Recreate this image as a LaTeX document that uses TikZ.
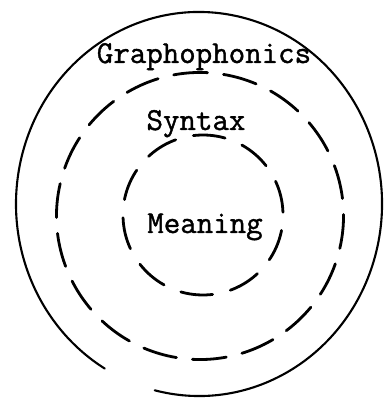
\documentclass[tikz,border=0pt]{standalone}
\usepackage{fontspec}
\newfontfamily\typewr[FakeBold=1.2]{Latin Modern Mono}
\begin{document}
\begin{tikzpicture}[x=1pt,y=1pt,
  ring/.style={line width=2.1pt, line cap=round},
  dashring/.style={line width=2.8pt, line cap=round},
  lbl/.style={inner sep=0pt, anchor=base, font=\typewr\fontsize{32}{36}\selectfont}]
\useasboundingbox (0,0) rectangle (387,401);
% centres
\coordinate (co) at (199,197);
\coordinate (cm) at (200,185);
\coordinate (ci) at (203,186);
% outer hand-drawn ring with a gap at lower left
\draw[ring] (co) ++(256:183 and 192) arc[start angle=256, end angle=599, x radius=183, y radius=192];
% middle dashed ring
\draw[dashring, dash pattern=on 34pt off 16.09pt] (cm) ++(-13:143.5) arc[start angle=-13, delta angle=360, radius=143.5];
% inner dashed ring
\draw[dashring, dash pattern=on 32pt off 18.26pt] (ci) ++(2:80) arc[start angle=2, delta angle=360, radius=80];
% labels
\node[lbl] (graph) at (204,338) {Graphophonics};
\node[lbl] (syn) at (196,271) {Syntax};
\node[lbl] (mean) at (205,168) {Meaning};
\end{tikzpicture}
\end{document}
